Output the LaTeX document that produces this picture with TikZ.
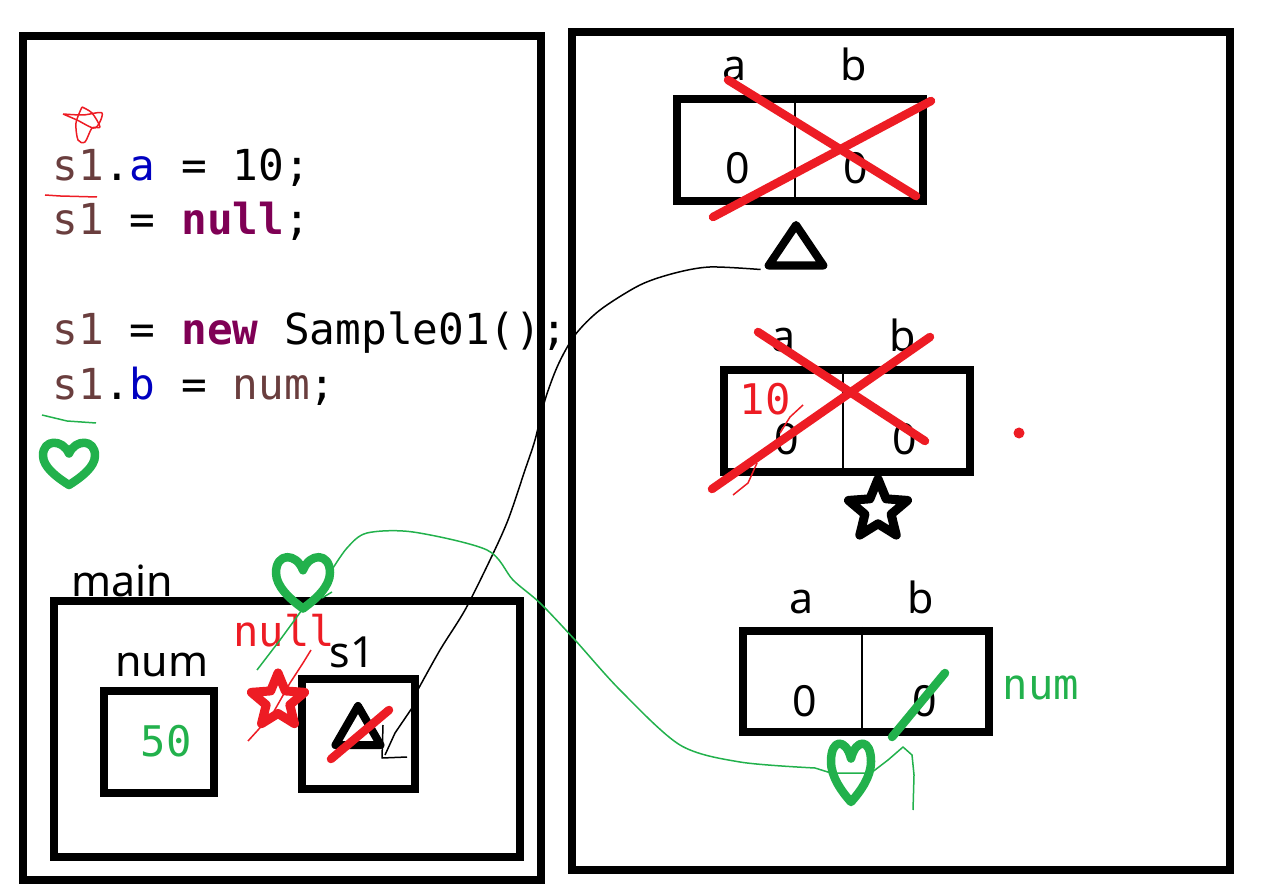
\documentclass[tikz,border=0pt]{standalone}
\usepackage{fontspec}
\setmainfont{Noto Sans}
\setmonofont{DejaVu Sans Mono}
\usetikzlibrary{shapes.geometric}
\definecolor{redmark}{HTML}{ED1C24}
\definecolor{greenmark}{HTML}{22B14C}
\definecolor{varbrown}{HTML}{6A3E3E}
\definecolor{fieldblue}{HTML}{0000C0}
\definecolor{keypurple}{HTML}{7F0055}
\tikzset{
  frame/.style={draw, line width=0.08cm, inner sep=0pt},
  code/.style={anchor=base west, inner sep=0pt, font=\ttfamily\fontsize{12.15}{14}\selectfont},
  label/.style={anchor=base, inner sep=0pt, font=\fontsize{12.2}{14}\selectfont},
  monolabel/.style={anchor=base, inner sep=0pt, font=\ttfamily\fontsize{12}{14}\selectfont},
  thick mark/.style={line width=0.085cm, line cap=round, line join=round},
  ink/.style={line width=0.015cm, line join=round},
  heart/.pic={
    \draw[greenmark, thick mark] (0,-0.5) .. controls (-0.25,-1.2) and (-1,-1.2) .. (-1,-0.4)
      .. controls (-1,0.15) and (-0.45,0.65) .. (0,1)
      .. controls (0.45,0.65) and (1,0.15) .. (1,-0.4)
      .. controls (1,-1.2) and (0.25,-1.2) .. (0,-0.5) -- cycle;
    \coordinate (-tip) at (0,1);
    \coordinate (-right) at (1,-0.4);
    \coordinate (-left) at (-1,0);
    \coordinate (-east) at (1,0);
  }
}
\begin{document}
\begin{tikzpicture}[x=0.01cm, y=-0.01cm]
\useasboundingbox (0,0) rectangle (1280,889);
\node[frame, minimum width=5.18cm, minimum height=8.44cm] (stack) at (282,458) {};
\node[frame, minimum width=6.58cm, minimum height=8.38cm] (heap) at (901,451) {};
\node[frame, minimum width=4.66cm, minimum height=2.55cm] (main) at (287,729) {};
\node[frame, minimum width=1.10cm, minimum height=1.02cm] (numbox) at (159,742) {};
\node[frame, minimum width=1.13cm, minimum height=1.10cm] (sbox) at (358.5,734) {};
\node[frame, minimum width=2.46cm, minimum height=1.02cm] (obja) at (800,150) {};
\node[frame, minimum width=2.46cm, minimum height=1.02cm] (objb) at (847,421) {};
\node[frame, minimum width=2.46cm, minimum height=1.01cm] (objc) at (866,681.5) {};
\draw[line width=0.02cm] (795,0 |- obja.north) -- (795,0 |- obja.south);
\draw[line width=0.02cm] (843,0 |- objb.north) -- (843,0 |- objb.south);
\draw[line width=0.02cm] (862,0 |- objc.north) -- (862,0 |- objc.south);

\node[code] (line1) at (52,181) {\textcolor{varbrown}{s1}.\textcolor{fieldblue}{a} = 10;};
\node[code] (line2) at (52,235) {\textcolor{varbrown}{s1} = \textcolor{keypurple}{\bfseries null};};
\node[code] (line3) at (52,345) {\textcolor{varbrown}{s1} = \textcolor{keypurple}{\bfseries new} Sample01();};
\node[code] (line4) at (52,400) {\textcolor{varbrown}{s1}.\textcolor{fieldblue}{b} = \textcolor{varbrown}{num};};

\node[label] (lmain) at (122,596) {main};
\node[label] (lnum) at (162,676) {num};
\node[label] (ls) at (352,667) {s1};
\node[monolabel, text=greenmark] (val) at (166,756) {50};
\node[monolabel, text=redmark] (lnull) at (284,646) {null};

\node[label] (aa) at (735,81) {a};
\node[label] (ab) at (854,81) {b};
\node[label] (azero) at (738,184) {0};
\node[label] (bzero) at (856,184) {0};
\node[label] (ba) at (784,352) {a};
\node[label] (bb) at (903,352) {b};
\node[monolabel, text=redmark] (bten) at (765,415) {10};
\node[label] (bazero) at (787,455) {0};
\node[label] (bbzero) at (905,455) {0};
\node[label] (ca) at (802,613) {a};
\node[label] (cb) at (921,613) {b};
\node[label] (cazero) at (805,716) {0};
\node[label] (cbzero) at (925,716) {0};
\node[monolabel, text=greenmark] (lgreen) at (1041,699) {num};

\node[draw, regular polygon, regular polygon sides=3, minimum size=0.54cm, inner sep=0pt, line width=0.08cm, line join=round, transform shape, xscale=1.17] (tria) at (796,252) {};
\node[draw, regular polygon, regular polygon sides=3, minimum size=0.52cm, inner sep=0pt, line width=0.08cm, line join=round] (tris) at (358,732) {};
\node[draw, star, star points=5, star point ratio=2.25, minimum size=0.62cm, inner sep=0pt, line width=0.09cm, line join=round] (starb) at (878,510) {};
\node[draw=redmark, star, star points=5, star point ratio=2.25, minimum size=0.56cm, inner sep=0pt, line width=0.09cm, line join=round] (stars) at (278,701) {};

\pic[xscale=26, yscale=21] (hearta) at (69,464) {heart};
\pic[xscale=27, yscale=25.5] (heartb) at (303,583) {heart};
\pic[xscale=20, yscale=29] (heartc) at (851,773) {heart};

\draw[redmark, thick mark] (728,80) -- (916,196);
\draw[redmark, thick mark] (713,217) -- (931,101);
\draw[redmark, thick mark] (758,332) -- (925,441);
\draw[redmark, thick mark] (712,489) -- (930,337);
\draw[redmark, thick mark] (331,759) -- (389,710);
\draw[greenmark, thick mark] (892,737) -- (945,673);
\node[circle, fill=redmark, minimum size=0.11cm, inner sep=0pt] (dot) at (1019,433) {};

\draw[ink] plot[smooth] coordinates {(tria.corner 2) (710,267) (675,273) (640,285) (600,310) (575,335) (558,365) (545,400) (535,440) (525,470) (508,520) (490,560) (465,610) (440,650) (415,695)};
\draw[ink] (412,708) -- (395,733) -- (385,755);
\draw[ink] (383,725) -- (382,758) -- (407,757);

\draw[greenmark, ink] (257,670) -- (280,640) -- (heartb-tip);
\draw[greenmark, ink] (322,598) -- (332,592);
\draw[greenmark, ink] plot[smooth] coordinates {(heartb-right) (347,548) (367,533) (413,532) (487,550) (513,580) (540,603) (575,640) (620,690) (680,745) (740,762) (815,768)};
\draw[greenmark, ink] (815,768) -- (heartc-left) -- (heartc-east) -- (888,760) -- (903,747) -- (912,755) -- (914,775) -- (913,810);

\draw[redmark, ink] plot[smooth] coordinates {(63,114) (83,115) (102,113) (95,128) (77,120) (63,114)};
\draw[redmark, ink] plot[smooth] coordinates {(82,107) (92,113) (100,127) (92,128) (85,142) (78,140) (76,123) (82,107)};
\draw[redmark, ink] (45,195) -- (60,196) -- (97,197);
\draw[greenmark, ink] (42,415) -- (67,421) -- (96,423);
\draw[redmark, ink] (311,650) -- (303,663) -- (290,683) -- (273,713) -- (258,730) -- (248,741);
\draw[redmark, ink] (803,405) -- (790,417) -- (780,433);
\draw[redmark, ink] (757,463) -- (748,483) -- (733,495);
\end{tikzpicture}
\end{document}
